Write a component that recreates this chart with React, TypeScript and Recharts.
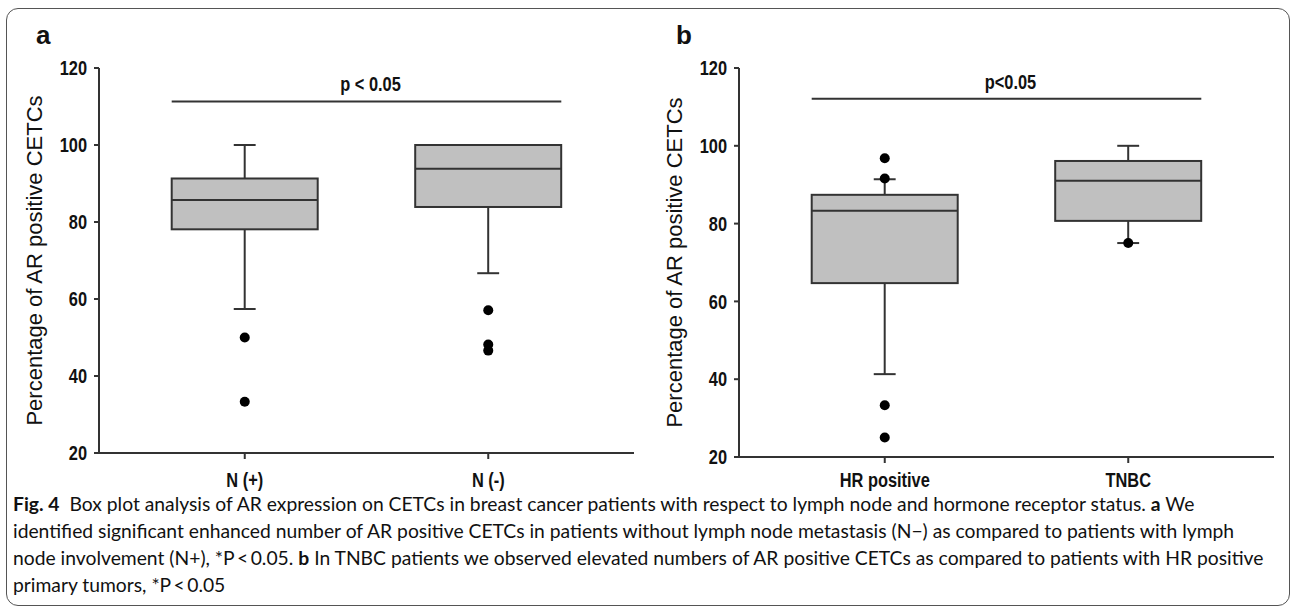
import React from "react";
import { Bar, ComposedChart, Line, ReferenceLine, XAxis, YAxis } from "recharts";

// panel a: lymph node status
const nodeGroups = ["N (+)", "N (-)"];
const nodeQ1 = [78.1, 83.9];
const nodeMedian = [85.7, 93.8];
const nodeQ3 = [91.3, 100];
const nodeWhiskerLow = [57.4, 66.7];
const nodeWhiskerHigh = [100, 100];
const nodeOutliers = [
  [50, 33.3],
  [57.1, 48.2, 46.6],
];
const nodeSigLevel = 111.3;
const nodeSigText = "p < 0.05";

// panel b: hormone receptor status
const hrGroups = ["HR positive", "TNBC"];
const hrQ1 = [64.7, 80.7];
const hrMedian = [83.3, 91.0];
const hrQ3 = [87.4, 96.1];
const hrWhiskerLow = [41.3, 75];
const hrWhiskerHigh = [91.4, 100];
const hrOutliers = [[96.8, 91.6, 33.3, 25], [75]];
const hrSigLevel = 112.1;
const hrSigText = "p<0.05";

const yTicks = [20, 40, 60, 80, 100, 120];
const yTitle = "Percentage of AR positive CETCs";

const INK = "#333";
const SANS = "'Liberation Sans', Arial, sans-serif";
const NARROW_SCALE = 0.82; // Arial Narrow look, from Liberation Sans

type Row = {
  name: string;
  box: [number, number];
  q1: number;
  q3: number;
  med: number;
  lo: number;
  hi: number;
  [key: string]: any;
};

function buildRows(
  groups: string[],
  q1: number[],
  med: number[],
  q3: number[],
  lo: number[],
  hi: number[],
  outliers: number[][]
): Row[] {
  return groups.map((name, i) => {
    const row: Row = { name, box: [q1[i], q3[i]], q1: q1[i], q3: q3[i], med: med[i], lo: lo[i], hi: hi[i] };
    outliers[i].forEach((v, k) => {
      row["o" + k] = v;
    });
    return row;
  });
}

const NarrowText = ({ x, y, anchor, dy, children }: any) => (
  <g transform={`translate(${x},${y})`}>
    <text
      transform={`scale(${NARROW_SCALE},1)`}
      textAnchor={anchor}
      dy={dy}
      fill="#111"
      fontFamily={SANS}
      fontWeight="bold"
      fontSize={20}
    >
      {children}
    </text>
  </g>
);

const YTick = (props: any) => (
  <NarrowText x={props.x} y={props.y} anchor="end" dy="0.36em">
    {props.payload.value}
  </NarrowText>
);

const XTick = (props: any) => (
  <NarrowText x={props.x} y={props.y} anchor="middle" dy="0.72em">
    {props.payload.value}
  </NarrowText>
);

const BoxShape = (props: any) => {
  const { x, y, width, height, payload } = props;
  const top = Math.min(y, y + height);
  const bottom = Math.max(y, y + height);
  const unit = (bottom - top) / (payload.q3 - payload.q1);
  const py = (v: number) => bottom - (v - payload.q1) * unit;
  const cx = x + width / 2;
  const cap = width * 0.075;
  const line = { stroke: INK, strokeWidth: 2 };
  return (
    <g>
      <line x1={cx} x2={cx} y1={top} y2={py(payload.hi)} {...line} />
      <line x1={cx - cap} x2={cx + cap} y1={py(payload.hi)} y2={py(payload.hi)} {...line} />
      <line x1={cx} x2={cx} y1={bottom} y2={py(payload.lo)} {...line} />
      <line x1={cx - cap} x2={cx + cap} y1={py(payload.lo)} y2={py(payload.lo)} {...line} />
      <rect x={x} y={top} width={width} height={bottom - top} fill="#c0c0c0" {...line} />
      <line x1={x} x2={x + width} y1={py(payload.med)} y2={py(payload.med)} {...line} />
    </g>
  );
};

const SigBracket = (props: any) => {
  const { x1, x2, y1, text } = props;
  const ext = (x2 - x1) * 0.3;
  return (
    <g>
      <line x1={x1 - ext} x2={x2 + ext} y1={y1} y2={y1} stroke={INK} strokeWidth={2} />
      <NarrowText x={(x1 + x2) / 2 + 4} y={y1 - 10} anchor="middle" dy={0}>
        {text}
      </NarrowText>
    </g>
  );
};

type PanelProps = {
  letter: string;
  left: number;
  rows: Row[];
  groups: string[];
  sigLevel: number;
  sigText: string;
  bottom: number;
  labelGap: number;
};

const Panel = ({ letter, left, rows, groups, sigLevel, sigText, bottom, labelGap }: PanelProps) => {
  const maxOut = Math.max(...rows.map(r => Object.keys(r).filter(k => /^o\d$/.test(k)).length));
  const outKeys = Array.from({ length: maxOut }, (_, k) => "o" + k);
  return (
    <div style={{ position: "absolute", left, top: 0, width: 640, height: 500 }}>
      <div
        style={{
          position: "absolute",
          left: 36,
          top: 22,
          fontFamily: SANS,
          fontWeight: "bold",
          fontSize: 26,
          lineHeight: "26px",
          color: "#111",
        }}
      >
        {letter}
      </div>
      <ComposedChart
        width={640}
        height={500}
        data={rows}
        margin={{ top: 68, right: 6, bottom: bottom, left: 0 }}
        barCategoryGap="20%"
      >
        <XAxis
          dataKey="name"
          padding={{ left: 24, right: 24 }}
          height={40}
          axisLine={{ stroke: INK, strokeWidth: 2 }}
          tickLine={{ stroke: INK, strokeWidth: 2 }}
          tickSize={6}
          tickMargin={labelGap}
          tick={<XTick />}
        />
        <XAxis
          xAxisId="top"
          dataKey="name"
          orientation="top"
          height={0}
          tick={false}
          tickLine={false}
          axisLine={{ stroke: INK, strokeWidth: 2 }}
        />
        <YAxis
          type="number"
          domain={[20, 120]}
          ticks={yTicks}
          width={99}
          axisLine={{ stroke: INK, strokeWidth: 2 }}
          tickLine={{ stroke: INK, strokeWidth: 2 }}
          tickSize={5}
          tickMargin={7}
          tick={<YTick />}
          label={{
            content: (p: any) => {
              const vb = p.viewBox;
              const lx = vb.x + 42;
              const ly = vb.y + vb.height / 2;
              return (
                <text
                  x={lx}
                  y={ly}
                  transform={`rotate(-90 ${lx} ${ly})`}
                  textAnchor="middle"
                  fill="#111"
                  fontFamily={SANS}
                  fontSize={22}
                >
                  {yTitle}
                </text>
              );
            },
          }}
        />
        <YAxis
          yAxisId="right"
          orientation="right"
          type="number"
          domain={[0, 1]}
          width={0}
          tick={false}
          tickLine={false}
          axisLine={{ stroke: INK, strokeWidth: 2 }}
        />
        <Bar dataKey="box" shape={BoxShape} isAnimationActive={false} legendType="none" />
        {outKeys.map(k => (
          <Line
            key={k}
            dataKey={k}
            stroke="none"
            dot={{ r: 5, fill: "#000", stroke: "#000", strokeWidth: 0 }}
            activeDot={false}
            isAnimationActive={false}
            legendType="none"
          />
        ))}
        <ReferenceLine
          segment={[
            { x: groups[0], y: sigLevel },
            { x: groups[1], y: sigLevel },
          ]}
          ifOverflow="visible"
          shape={(p: any) => <SigBracket {...p} text={sigText} />}
        />
      </ComposedChart>
    </div>
  );
};

const captionLine = (top: number): React.CSSProperties => ({
  position: "absolute",
  left: 13,
  top,
  lineHeight: "20px",
  whiteSpace: "nowrap",
  fontFamily: "Lato, 'Open Sans', sans-serif",
  fontSize: 19.3,
  color: "#111",
});

export default function App() {
  const nodeRows = buildRows(nodeGroups, nodeQ1, nodeMedian, nodeQ3, nodeWhiskerLow, nodeWhiskerHigh, nodeOutliers);
  const hrRows = buildRows(hrGroups, hrQ1, hrMedian, hrQ3, hrWhiskerLow, hrWhiskerHigh, hrOutliers);
  return (
    <div style={{ position: "absolute", left: 0, top: 0, width: 1292, height: 613, background: "#fff" }}>
      <div
        style={{
          position: "absolute",
          left: 6,
          top: 8,
          width: 1284,
          height: 598,
          border: "1.5px solid #555",
          borderRadius: 12,
          boxSizing: "border-box",
        }}
      />
      <Panel letter="a" left={0} rows={nodeRows} groups={nodeGroups} sigLevel={nodeSigLevel} sigText={nodeSigText} bottom={7} labelGap={14} />
      <Panel letter="b" left={640} rows={hrRows} groups={hrGroups} sigLevel={hrSigLevel} sigText={hrSigText} bottom={3} labelGap={10} />
      <div style={captionLine(494)}>
        <b>Fig. 4</b>
        <span style={{ marginLeft: 10 }}>
          Box plot analysis of AR expression on CETCs in breast cancer patients with respect to lymph node and hormone receptor status. <b>a</b> We
        </span>
      </div>
      <div style={captionLine(521)}>
        identified significant enhanced number of AR positive CETCs in patients without lymph node metastasis (N−) as compared to patients with lymph
      </div>
      <div style={captionLine(548)}>
        node involvement (N+), *P{"\u2009"}&lt;{"\u2009"}0.05. <b>b</b> In TNBC patients we observed elevated numbers of AR positive CETCs as compared to patients with HR positive
      </div>
      <div style={captionLine(575)}>primary tumors, *P{"\u2009"}&lt;{"\u2009"}0.05</div>
    </div>
  );
}
